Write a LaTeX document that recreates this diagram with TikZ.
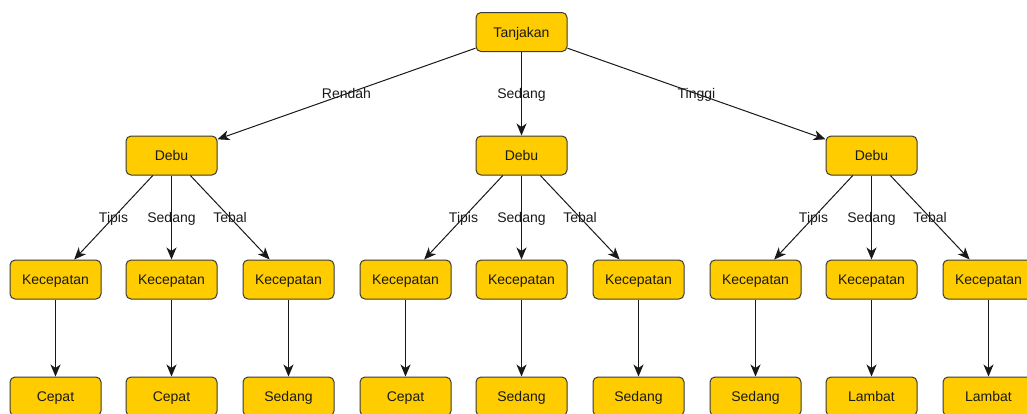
\documentclass[tikz,border=0pt]{standalone}
\usepackage{fontspec}
\setmainfont{Liberation Sans}
\usetikzlibrary{arrows.meta}
\definecolor{boxfill}{HTML}{FFCC00}
\definecolor{boxline}{HTML}{3A3A3A}
\definecolor{txt}{HTML}{1A1A1A}
\begin{document}
\begin{tikzpicture}[x=1pt,y=-1pt,
  box/.style={draw=boxline, fill=boxfill, line width=1pt, rounded corners=5pt,
    minimum width=91pt, minimum height=39pt, inner sep=0pt,
    text height=10pt, text depth=0pt,
    text=txt, font=\fontsize{14}{16}\selectfont},
  arr/.style={draw=black!90, line width=1pt,
    -{Stealth[length=12pt,width=10pt,inset=3.5pt]}},
  lbl/.style={midway, text=txt, font=\fontsize{14}{16}\selectfont, inner sep=0pt,
    text height=10pt, text depth=0pt}]
\clip (0,0) rectangle (1027,413);
\fill[white] (0,0) rectangle (1027,413);

% root
\node[box] (root) at (521.5,32) {Tanjakan};

% second level
\node[box] (d1) at (171.5,155.5) {Debu};
\node[box] (d2) at (521.5,155.5) {Debu};
\node[box] (d3) at (871.5,155.5) {Debu};

% third level
\foreach \i/\x in {1/55.5,2/171.5,3/288.5,4/405.5,5/521.5,6/638.5,7/755.5,8/871.5,9/988.5}
  \node[box] (k\i) at (\x,279.5) {Kecepatan};

% leaves
\node[box] (l1) at (55.5,396.5) {Cepat};
\node[box] (l2) at (171.5,396.5) {Cepat};
\node[box] (l3) at (288.5,396.5) {Sedang};
\node[box] (l4) at (405.5,396.5) {Cepat};
\node[box] (l5) at (521.5,396.5) {Sedang};
\node[box] (l6) at (638.5,396.5) {Sedang};
\node[box] (l7) at (755.5,396.5) {Sedang};
\node[box] (l8) at (871.5,396.5) {Lambat};
\node[box] (l9) at (988.5,396.5) {Lambat};

% root edges
\draw[arr] (root) -- node[lbl] {Rendah} (d1);
\draw[arr] (root) -- node[lbl] {Sedang} (d2);
\draw[arr] (root) -- node[lbl] {Tinggi} (d3);

% Debu edges
\foreach \d/\a/\b/\c in {1/1/2/3,2/4/5/6,3/7/8/9} {
  \draw[arr] (d\d) -- node[lbl] {Tipis} (k\a);
  \draw[arr] (d\d) -- node[lbl] {Sedang} (k\b);
  \draw[arr] (d\d) -- node[lbl] {Tebal} (k\c);
}

% Kecepatan to result
\foreach \i in {1,...,9}
  \draw[arr] (k\i) -- (l\i);
\end{tikzpicture}
\end{document}
